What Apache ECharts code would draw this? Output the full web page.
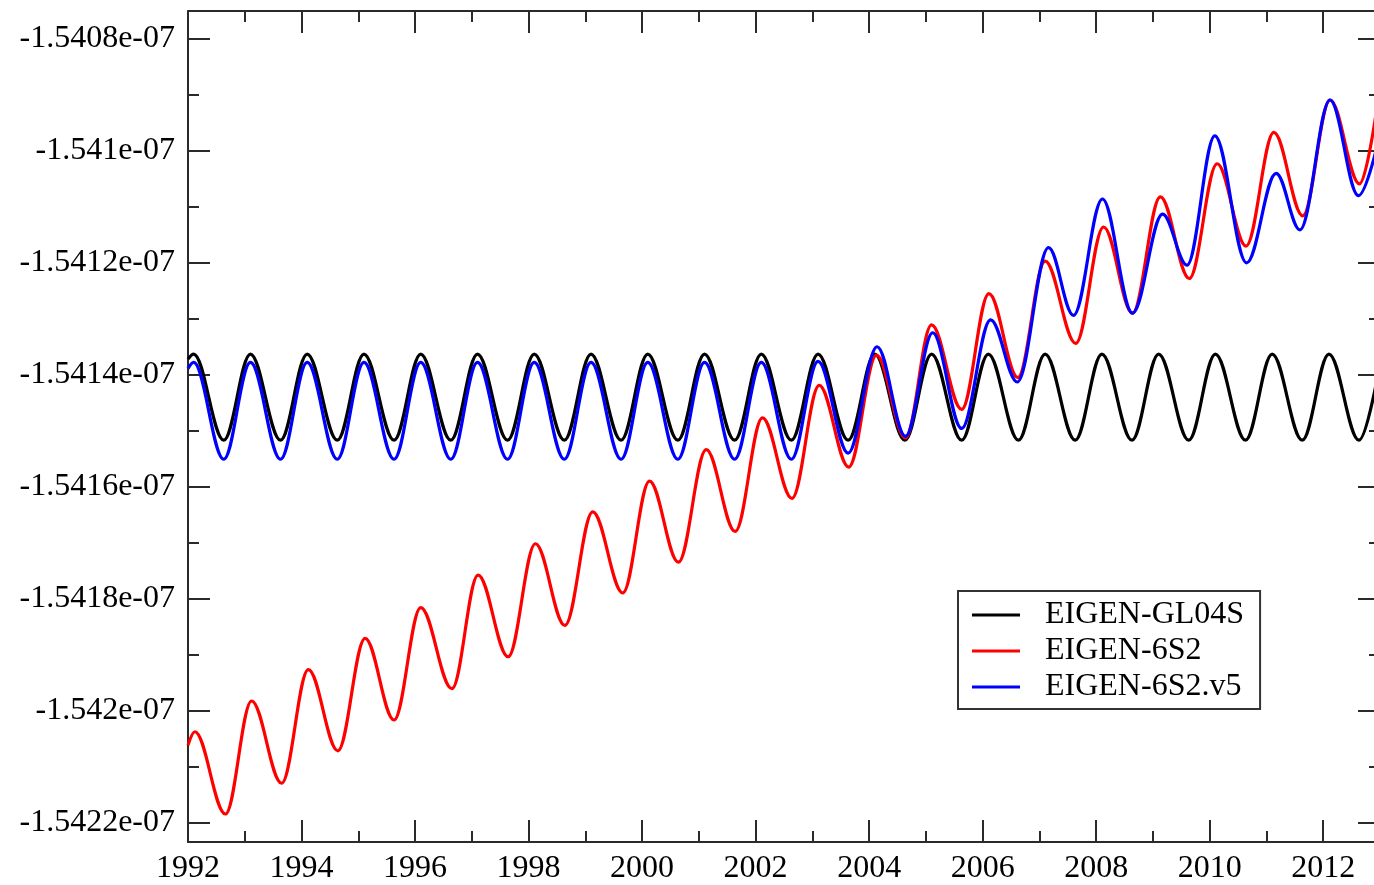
<!DOCTYPE html>
<html>
<head>
<meta charset="utf-8">
<script src="https://cdn.jsdelivr.net/npm/echarts@6.0.0/dist/echarts.min.js"></script>
<style>
html,body{margin:0;padding:0;background:#fff;}
#chart{width:1374px;height:885px;}
</style>
</head>
<body>
<div id="chart"></div>
<script>
// ---------------- data ----------------
const seriesNames = ['EIGEN-GL04S', 'EIGEN-6S2', 'EIGEN-6S2.v5'];
const seriesColors = ['#000000', '#ff0000', '#0000ff'];

const X_MIN = 1992, X_MAX = 2013;
const Y_MIN = -1.542235e-7, Y_MAX = -1.54075e-7;

const xMajorTicks = [1992, 1994, 1996, 1998, 2000, 2002, 2004, 2006, 2008, 2010, 2012];
const xMinorTicks = [1993, 1995, 1997, 1999, 2001, 2003, 2005, 2007, 2009, 2011];
const yMajorTicks = [-1.5422e-7, -1.542e-7, -1.5418e-7, -1.5416e-7, -1.5414e-7, -1.5412e-7, -1.541e-7, -1.5408e-7];
const yMinorTicks = [-1.5421e-7, -1.5419e-7, -1.5417e-7, -1.5415e-7, -1.5413e-7, -1.5411e-7, -1.5409e-7];

// EIGEN-GL04S (black): start, then yearly maximum / minimum, end
const blackYears = [1992.00,
  1992.10, 1992.63, 1993.10, 1993.63, 1994.10, 1994.63, 1995.10, 1995.63,
  1996.10, 1996.63, 1997.10, 1997.63, 1998.10, 1998.63, 1999.10, 1999.63,
  2000.10, 2000.63, 2001.10, 2001.63, 2002.10, 2002.63, 2003.10, 2003.63,
  2004.10, 2004.63, 2005.10, 2005.63, 2006.10, 2006.63, 2007.10, 2007.63,
  2008.10, 2008.63, 2009.10, 2009.63, 2010.10, 2010.63, 2011.10, 2011.63,
  2012.10, 2012.63, 2013.00];
const blackValues = [-1.541372e-7,
  -1.541363e-7, -1.541517e-7, -1.541363e-7, -1.541517e-7, -1.541363e-7, -1.541517e-7, -1.541363e-7, -1.541517e-7,
  -1.541363e-7, -1.541517e-7, -1.541363e-7, -1.541517e-7, -1.541363e-7, -1.541517e-7, -1.541363e-7, -1.541517e-7,
  -1.541363e-7, -1.541517e-7, -1.541363e-7, -1.541517e-7, -1.541363e-7, -1.541517e-7, -1.541363e-7, -1.541517e-7,
  -1.541363e-7, -1.541517e-7, -1.541363e-7, -1.541517e-7, -1.541363e-7, -1.541517e-7, -1.541363e-7, -1.541517e-7,
  -1.541363e-7, -1.541517e-7, -1.541363e-7, -1.541517e-7, -1.541363e-7, -1.541517e-7, -1.541363e-7, -1.541517e-7,
  -1.541363e-7, -1.541517e-7, -1.541380e-7];

// EIGEN-6S2 (red)
const redYears = [1992.00,
  1992.12, 1992.66, 1993.12, 1993.65, 1994.12, 1994.64, 1995.12, 1995.63,
  1996.10, 1996.65, 1997.11, 1997.64, 1998.12, 1998.64, 1999.13, 1999.66,
  2000.13, 2000.64, 2001.13, 2001.64, 2002.12, 2002.64, 2003.12, 2003.64,
  2004.13, 2004.64, 2005.10, 2005.63, 2006.11, 2006.62, 2007.10, 2007.64,
  2008.13, 2008.64, 2009.13, 2009.64, 2010.13, 2010.64, 2011.13, 2011.64,
  2012.12, 2012.64, 2013.00];
const redValues = [-1.542062e-7,
  -1.542038e-7, -1.542185e-7, -1.541983e-7, -1.542130e-7, -1.541927e-7, -1.542072e-7, -1.541871e-7, -1.542017e-7,
  -1.541816e-7, -1.541961e-7, -1.541758e-7, -1.541904e-7, -1.541702e-7, -1.541848e-7, -1.541645e-7, -1.541790e-7,
  -1.541590e-7, -1.541735e-7, -1.541534e-7, -1.541680e-7, -1.541477e-7, -1.541621e-7, -1.541419e-7, -1.541565e-7,
  -1.541365e-7, -1.541513e-7, -1.541311e-7, -1.541462e-7, -1.541255e-7, -1.541405e-7, -1.541197e-7, -1.541344e-7,
  -1.541136e-7, -1.541290e-7, -1.541082e-7, -1.541228e-7, -1.541023e-7, -1.541170e-7, -1.540967e-7, -1.541116e-7,
  -1.540909e-7, -1.541059e-7, -1.540885e-7];

// EIGEN-6S2.v5 (blue)
const blueYears = [1992.00,
  1992.10, 1992.63, 1993.10, 1993.63, 1994.10, 1994.63, 1995.10, 1995.63,
  1996.10, 1996.63, 1997.10, 1997.63, 1998.10, 1998.63, 1999.10, 1999.63,
  2000.10, 2000.63, 2001.10, 2001.63, 2002.10, 2002.63, 2003.10, 2003.63,
  2004.14, 2004.64, 2005.12, 2005.63, 2006.14, 2006.61, 2007.16, 2007.60,
  2008.11, 2008.64, 2009.17, 2009.60, 2010.09, 2010.65, 2011.17, 2011.59,
  2012.12, 2012.62, 2013.00];
const blueValues = [-1.541389e-7,
  -1.541378e-7, -1.541551e-7, -1.541378e-7, -1.541551e-7, -1.541378e-7, -1.541551e-7, -1.541378e-7, -1.541551e-7,
  -1.541378e-7, -1.541551e-7, -1.541378e-7, -1.541551e-7, -1.541378e-7, -1.541551e-7, -1.541378e-7, -1.541551e-7,
  -1.541378e-7, -1.541551e-7, -1.541378e-7, -1.541551e-7, -1.541378e-7, -1.541551e-7, -1.541376e-7, -1.541540e-7,
  -1.541350e-7, -1.541510e-7, -1.541325e-7, -1.541496e-7, -1.541302e-7, -1.541413e-7, -1.541173e-7, -1.541294e-7,
  -1.541086e-7, -1.541290e-7, -1.541113e-7, -1.541204e-7, -1.540973e-7, -1.541200e-7, -1.541040e-7, -1.541141e-7,
  -1.540909e-7, -1.541080e-7, -1.540970e-7];

// ---------------- chart ----------------
const FONT = "'Liberation Serif', 'DejaVu Serif', serif";
const AXIS_COLOR = '#2a2a2a';
const MAJOR_LEN = 22, MINOR_LEN = 11;

function pairs(xs, ys) { return xs.map((x, i) => [x, ys[i]]); }

function xAxisCfg(position, ticks, len, withLine, withLabel) {
  return {
    type: 'value', gridIndex: 0, position: position, min: X_MIN, max: X_MAX,
    axisLine: { show: withLine, onZero: false, lineStyle: { color: AXIS_COLOR, width: 2 } },
    axisTick: { show: true, inside: true, length: len, customValues: ticks,
                lineStyle: { color: AXIS_COLOR, width: 2 } },
    axisLabel: withLabel ? {
      show: true, customValues: ticks, margin: 11,
      fontFamily: FONT, fontSize: 32, color: '#000',
      formatter: v => String(Math.round(v))
    } : { show: false },
    splitLine: { show: false }, minorTick: { show: false }
  };
}
function yAxisCfg(position, ticks, len, withLine, withLabel) {
  return {
    type: 'value', gridIndex: 0, position: position, min: Y_MIN, max: Y_MAX,
    axisLine: { show: withLine, onZero: false, lineStyle: { color: AXIS_COLOR, width: 2 } },
    axisTick: { show: true, inside: true, length: len, customValues: ticks,
                lineStyle: { color: AXIS_COLOR, width: 2 } },
    axisLabel: withLabel ? {
      show: true, customValues: ticks, margin: 13,
      fontFamily: FONT, fontSize: 32, color: '#000',
      padding: [5, 0, 0, 0],
      formatter: v => parseFloat((v * 1e7).toFixed(4)) + 'e-07'
    } : { show: false },
    splitLine: { show: false }, minorTick: { show: false }
  };
}

const chart = echarts.init(document.getElementById('chart'), null, { renderer: 'canvas' });
const seriesYears = [blackYears, redYears, blueYears];
const seriesValues = [blackValues, redValues, blueValues];

chart.setOption({
  animation: false,
  backgroundColor: '#ffffff',
  grid: { left: 188, top: 11, width: 1192, height: 831, outerBoundsMode: 'none', containLabel: false },
  xAxis: [
    xAxisCfg('bottom', xMajorTicks, MAJOR_LEN, true, true),
    xAxisCfg('bottom', xMinorTicks, MINOR_LEN, false, false),
    xAxisCfg('top', xMajorTicks, MAJOR_LEN, true, false),
    xAxisCfg('top', xMinorTicks, MINOR_LEN, false, false)
  ],
  yAxis: [
    yAxisCfg('left', yMajorTicks, MAJOR_LEN, true, true),
    yAxisCfg('left', yMinorTicks, MINOR_LEN, false, false),
    yAxisCfg('right', yMajorTicks, MAJOR_LEN, true, false),
    yAxisCfg('right', yMinorTicks, MINOR_LEN, false, false)
  ],
  legend: {
    orient: 'vertical', left: 958, top: 591,
    padding: [8, 16, 6, 14], itemGap: 4,
    itemWidth: 48, itemHeight: 3, icon: 'rect',
    borderColor: '#333', borderWidth: 2, backgroundColor: '#fff',
    textStyle: { fontFamily: FONT, fontSize: 32, color: '#000', padding: [0, 0, 0, 20] },
    data: seriesNames
  },
  series: seriesNames.map((name, i) => ({
    name: name, type: 'line', xAxisIndex: 0, yAxisIndex: 0,
    data: pairs(seriesYears[i], seriesValues[i]),
    showSymbol: false, symbol: 'none',
    smooth: 0.36, smoothMonotone: 'x',
    lineStyle: { color: seriesColors[i], width: 3.2 },
    itemStyle: { color: seriesColors[i] },
    clip: true, z: 2 + i
  }))
});
</script>
</body>
</html>
